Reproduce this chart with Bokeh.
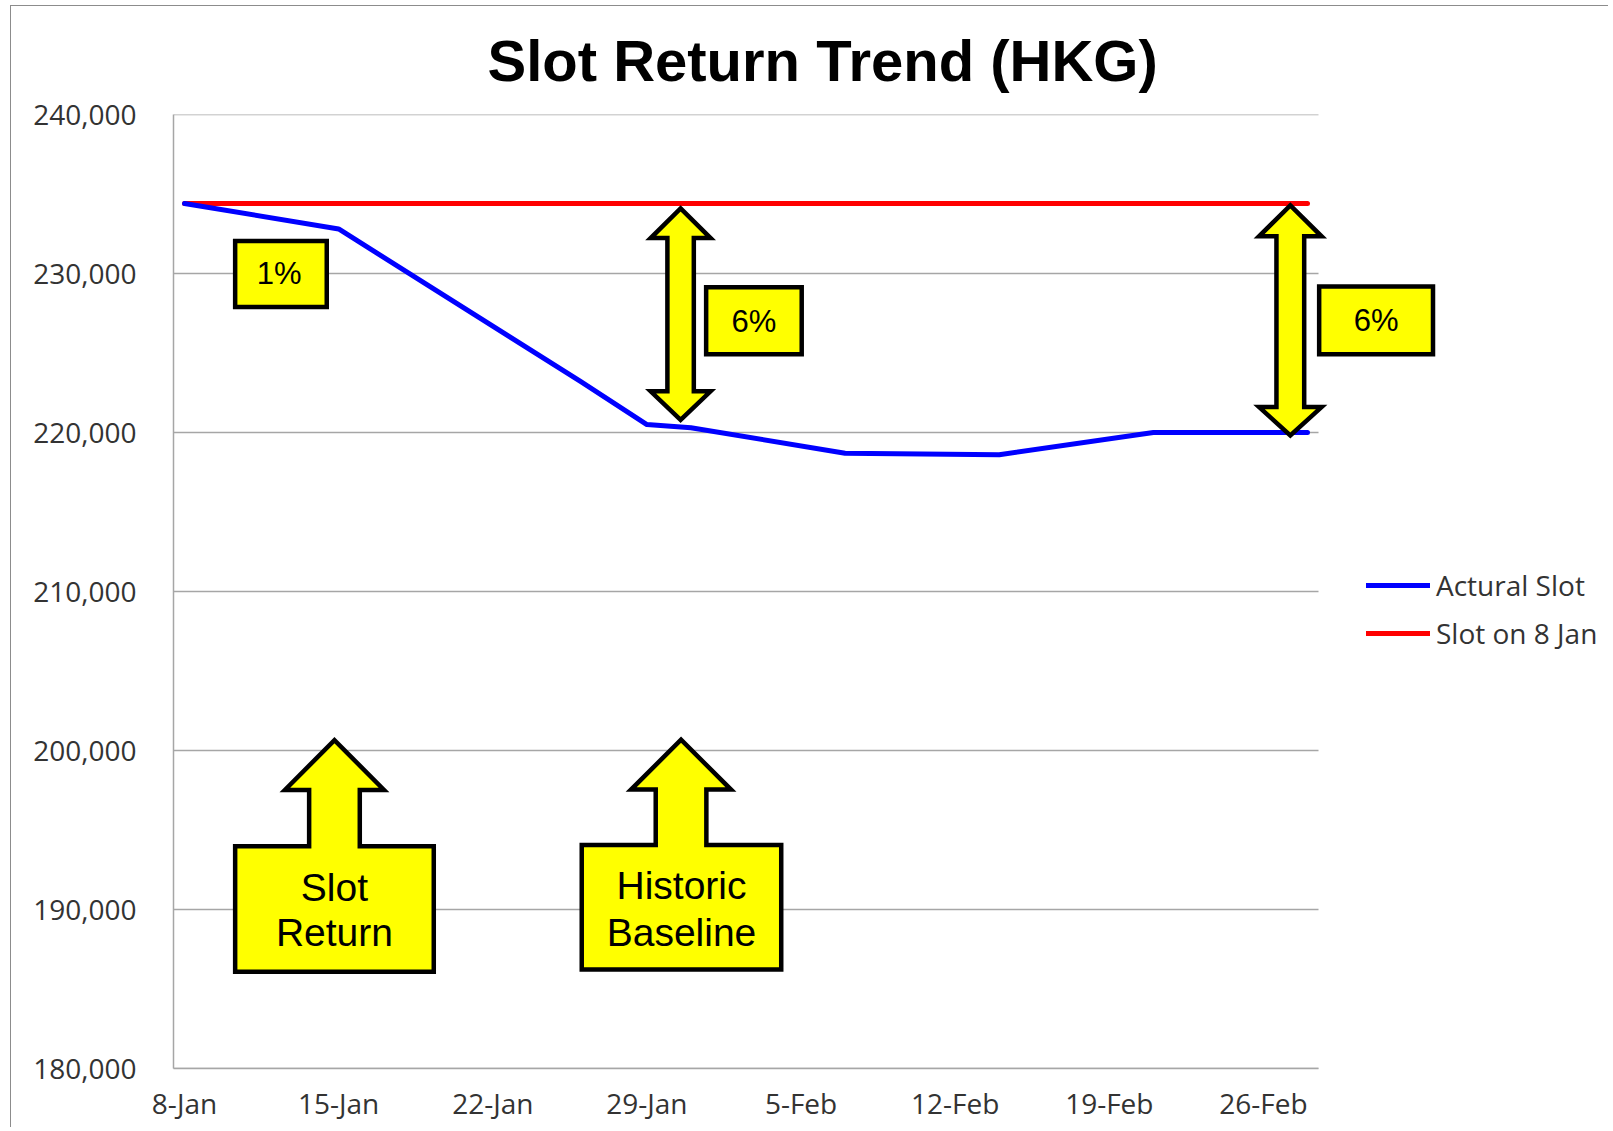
from datetime import datetime

from bokeh.plotting import figure
from bokeh.models import (FixedTicker, Legend, LegendItem, PolyAnnotation,
                          Label, NumeralTickFormatter)
from bokeh.embed import file_html
from bokeh.resources import INLINE

# ---------------- data ----------------
tick_labels = ["8-Jan", "15-Jan", "22-Jan", "29-Jan", "5-Feb", "12-Feb", "19-Feb", "26-Feb"]
actual_dates = ["8-Jan", "15-Jan", "26-Jan", "29-Jan", "31-Jan", "7-Feb", "14-Feb", "21-Feb", "28-Feb"]
actual_slots = [234400, 232800, 223200, 220500, 220300, 218700, 218600, 220000, 220000]
baseline_dates = ["8-Jan", "28-Feb"]
baseline_slots = [234400, 234400]
y_ticks = [180000, 190000, 200000, 210000, 220000, 230000, 240000]


def day_no(s):
    d = datetime.strptime(s + "-2013", "%d-%b-%Y")
    return (d - datetime(2013, 1, 8)).days


actual_x = [day_no(s) for s in actual_dates]
baseline_x = [day_no(s) for s in baseline_dates]
tick_x = [day_no(s) for s in tick_labels]
first, last = day_no("8-Jan"), day_no("28-Feb")

# ---------------- layout ----------------
OX, OY = 11, 6                      # canvas origin on the page
W, H = 1598, 1122
FRAME_L, FRAME_T = 173 - OX, 114 - OY
PLOT_R, FRAME_B = 1318 - OX, 1068 - OY
px_per_day = (PLOT_R - FRAME_L) / (last - first + 1)
x_start = first - 0.5
x_end = x_start + (W - FRAME_L) / px_per_day   # frame reaches the right edge

p = figure(width=W, height=H, x_range=(x_start, x_end),
           y_range=(y_ticks[0], y_ticks[-1]), output_backend="svg",
           toolbar_location=None, min_border_left=FRAME_L, min_border_right=0,
           min_border_top=FRAME_T, min_border_bottom=H - FRAME_B)
p.styles = {"margin-left": "10px", "margin-top": "5px",
            "border-left": "1px solid #8C8C8C", "border-top": "1px solid #8C8C8C"}
p.outline_line_color = None
p.background_fill_color = "white"
p.border_fill_color = "white"

p.title.text = "Slot Return Trend (HKG)"
p.title.align = "left"
p.title.vertical_align = "top"
p.title.offset = 314
p.title.text_font = "Liberation Sans"
p.title.text_font_style = "bold"
p.title.text_font_size = "58px"
p.title.text_color = "black"
p.title.standoff = 39

grid_c = "#A6A6A6"
p.xgrid.visible = False
p.ygrid.visible = False
n = len(y_ticks)
p.segment(x0=[first - 0.5] * n, y0=y_ticks, x1=[last + 0.5] * n, y1=y_ticks,
          line_color=grid_c, line_width=1.5)

p.yaxis.ticker = FixedTicker(ticks=y_ticks)
p.yaxis.formatter = NumeralTickFormatter(format="0,0")
p.xaxis.ticker = FixedTicker(ticks=tick_x)
p.xaxis.bounds = (first - 0.5, last + 0.5)
p.xaxis.major_label_overrides = {x: lab for x, lab in zip(tick_x, tick_labels)}
for ax in (p.xaxis[0], p.yaxis[0]):
    ax.axis_line_color = grid_c
    ax.axis_line_width = 1.5
    ax.major_tick_line_color = None
    ax.minor_tick_line_color = None
    ax.major_tick_out = 0
    ax.major_tick_in = 0
    ax.major_label_text_font = "Open Sans"
    ax.major_label_text_font_size = "28px"
    ax.major_label_text_color = "#333333"
p.yaxis.major_label_standoff = 37
p.xaxis.major_label_standoff = 15

r_red = p.line(baseline_x, baseline_slots, line_color="#FF0000", line_width=5,
               line_cap="round")
r_blue = p.line(actual_x, actual_slots, line_color="#0000FF", line_width=5,
                line_cap="round", line_join="round")

legend = Legend(items=[LegendItem(label="Actural Slot", renderers=[r_blue]),
                       LegendItem(label="Slot on 8 Jan", renderers=[r_red])],
                location=(1366 - OX - FRAME_L, FRAME_B - (653 - OY)),
                border_line_color=None,
                background_fill_alpha=0, glyph_width=64, glyph_height=40,
                label_height=40, spacing=8, padding=0, margin=0,
                label_standoff=6, label_text_font="Open Sans",
                label_text_font_size="28px", label_text_color="#333333")
p.add_layout(legend, "center")

# ---------------- annotations ----------------
YEL = "#FFFF00"
LW = 4.5


def poly(xs, ys):
    p.add_layout(PolyAnnotation(xs=xs, ys=ys, fill_color=YEL, fill_alpha=1,
                                line_color="black", line_alpha=1, line_width=LW,
                                line_join="miter"))


def box(x0, x1, y0, y1):
    poly([x0, x1, x1, x0], [y0, y0, y1, y1])


def double_arrow(xc, sw, hw, yt, yh1, yh2, yb):
    poly([xc, xc + hw, xc + sw, xc + sw, xc + hw, xc, xc - hw, xc - sw, xc - sw, xc - hw],
         [yt, yh1, yh1, yh2, yh2, yb, yh2, yh2, yh1, yh1])


def callout(x0, x1, yb, yt, xc, sw, hw, yhb, ytip):
    poly([x0, x0, xc - sw, xc - sw, xc - hw, xc, xc + hw, xc + sw, xc + sw, x1, x1],
         [yb, yt, yt, yhb, yhb, ytip, yhb, yhb, yt, yt, yb])


def label(x, y, text, size):
    p.add_layout(Label(x=x, y=y, text=text, text_align="center",
                       text_baseline="middle", text_font="Liberation Sans",
                       text_font_size=size, text_color="black"))


box(2.30, 6.46, 227900, 232040)
double_arrow(22.53, 0.60, 1.36, 234100, 232230, 222590, 220800)
box(23.69, 28.03, 224920, 229130)
double_arrow(50.22, 0.63, 1.42, 234280, 232340, 221600, 219820)
box(51.53, 56.70, 224920, 229190)
callout(2.30, 11.32, 186090, 193985, 6.81, 1.15, 2.25, 197520, 200650)
callout(18.04, 27.10, 186220, 194050, 22.55, 1.15, 2.27, 197540, 200680)

label(4.30, 229970, "1%", "31px")
label(25.86, 226990, "6%", "31px")
label(54.12, 227050, "6%", "31px")
label(6.81, 191400, "Slot", "39px")
label(6.81, 188550, "Return", "39px")
label(22.57, 191520, "Historic", "39px")
label(22.57, 188550, "Baseline", "39px")

open("out.html", "w").write(file_html(p, INLINE))
